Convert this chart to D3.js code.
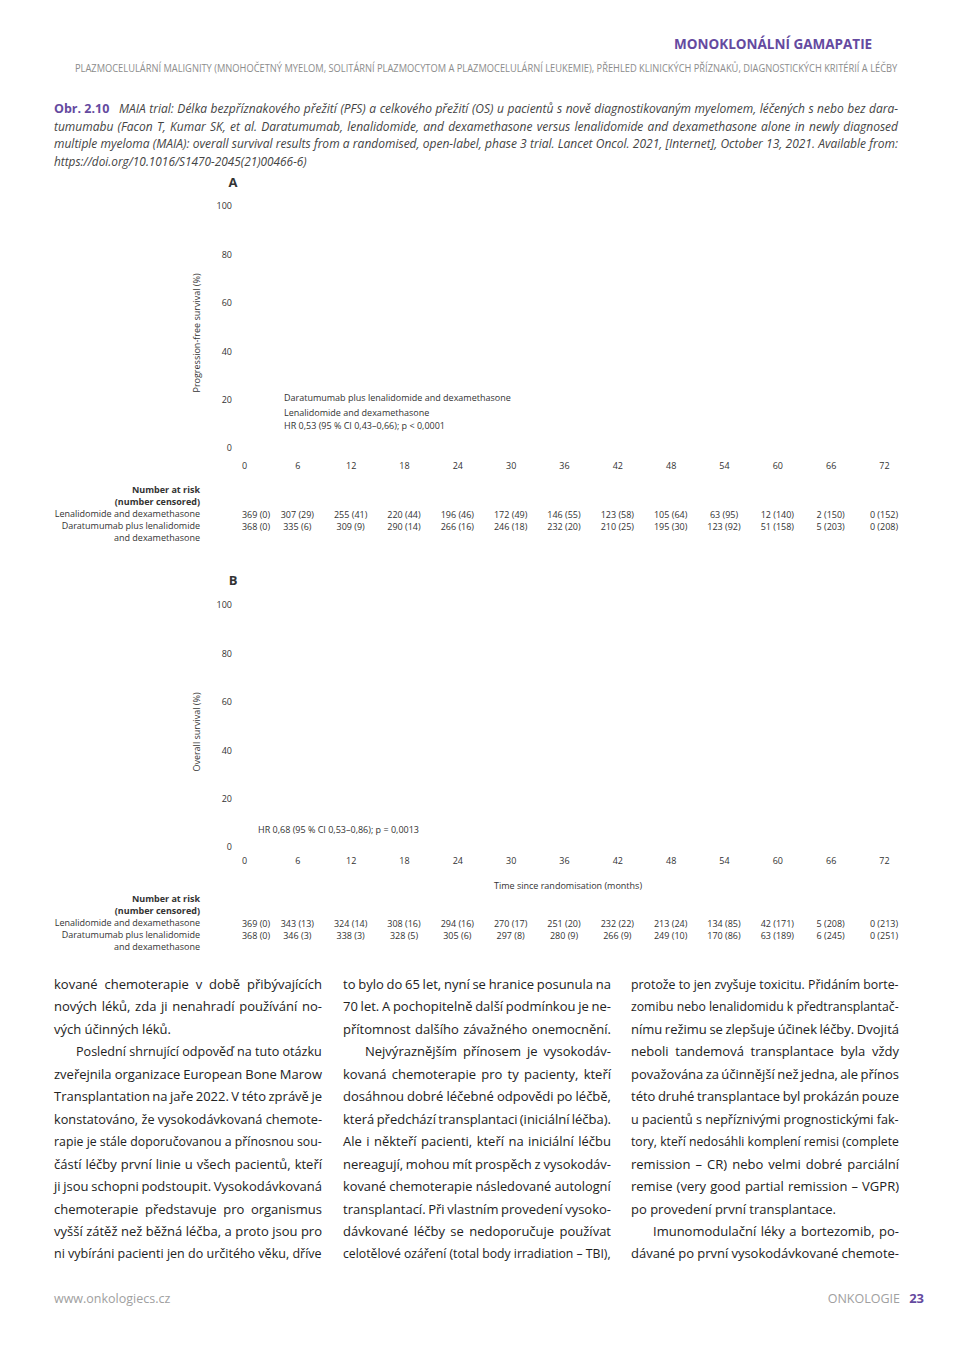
<!DOCTYPE html>
<html lang="cs">
<head>
  <meta charset="UTF-8">
  <title>MAIA trial – PFS a OS</title>
  <script src="https://d3js.org/d3.v7.min.js"></script>
  <style>
    body { margin: 0; background: #fff; }
    svg { display: block; }
    .chart text { font-family: "Open Sans", sans-serif; font-size: 9px; fill: #333; }
    .body-text { font-family: "Open Sans", sans-serif; font-size: 13px; fill: #222; }
    .caption { font-family: "Open Sans", sans-serif; font-size: 12px; font-style: italic; fill: #444; }
  </style>
</head>
<body>
  <svg width="954" height="1350"></svg>

  <script>
    // tick values
    const months = [0, 6, 12, 18, 24, 30, 36, 42, 48, 54, 60, 66, 72];
    const survivalTicks = [0, 20, 40, 60, 80, 100];

    // number at risk (number censored)
    const pfsLenDex = ["369 (0)", "307 (29)", "255 (41)", "220 (44)", "196 (46)", "172 (49)", "146 (55)",
                       "123 (58)", "105 (64)", "63 (95)", "12 (140)", "2 (150)", "0 (152)"];
    const pfsDaraLenDex = ["368 (0)", "335 (6)", "309 (9)", "290 (14)", "266 (16)", "246 (18)", "232 (20)",
                           "210 (25)", "195 (30)", "123 (92)", "51 (158)", "5 (203)", "0 (208)"];
    const osLenDex = ["369 (0)", "343 (13)", "324 (14)", "308 (16)", "294 (16)", "270 (17)", "251 (20)",
                      "232 (22)", "213 (24)", "134 (85)", "42 (171)", "5 (208)", "0 (213)"];
    const osDaraLenDex = ["368 (0)", "346 (3)", "338 (3)", "328 (5)", "305 (6)", "297 (8)", "280 (9)",
                          "266 (9)", "249 (10)", "170 (86)", "63 (189)", "6 (245)", "0 (251)"];

    const purple = "#654aa0";
    const svg = d3.select("svg");

    // place a text line at (x, y) and make it exactly `width` wide:
    // widen word gaps if short, squeeze horizontally if too long
    const fitLine = (sel, x, y, width, justify = true) => {
      sel.attr("x", x).attr("y", y);
      const natural = sel.node().getComputedTextLength();
      const gaps = (sel.text().match(/ /g) || []).length;
      if (natural <= width) {
        if (justify && gaps) sel.style("word-spacing", ((width - natural) / gaps) + "px");
      } else if (gaps && (natural - width) / gaps <= 1.2) {
        sel.style("word-spacing", (-(natural - width) / gaps) + "px");
      } else {
        sel.attr("x", 0).attr("y", 0)
          .attr("transform", `translate(${x},${y}) scale(${width / natural},1)`);
      }
      return sel;
    };

    // ---- page header ----
    svg.append("text")
      .style("font-family", "'Open Sans', sans-serif").style("font-weight", 700)
      .style("font-size", "13.5px").attr("fill", purple)
      .text("MONOKLONÁLNÍ GAMAPATIE")
      .call(s => fitLine(s, 674, 49, 224, false));

    svg.append("text")
      .style("font-family", "'Open Sans', sans-serif")
      .style("font-size", "11.5px").attr("fill", "#8c8c8c")
      .text("PLAZMOCELULÁRNÍ MALIGNITY (MNOHOČETNÝ MYELOM, SOLITÁRNÍ PLAZMOCYTOM A PLAZMOCELULÁRNÍ LEUKEMIE), PŘEHLED KLINICKÝCH PŘÍZNAKŮ, DIAGNOSTICKÝCH KRITÉRIÍ A LÉČBY")
      .call(s => fitLine(s, 75, 71.5, 823));

    // ---- figure caption ----
    svg.append("text")
      .attr("x", 54).attr("y", 113)
      .style("font-family", "'Open Sans', sans-serif").style("font-weight", 700)
      .style("font-size", "12.5px").attr("fill", purple)
      .text("Obr. 2.10");

    const captionLines = [
      { x: 119, text: "MAIA trial: Délka bezpříznakového přežití (PFS) a celkového přežití (OS) u pacientů s nově diagnostikovaným myelomem, léčených s nebo bez dara-", justify: true },
      { x: 54, text: "tumumabu (Facon T, Kumar SK, et al. Daratumumab, lenalidomide, and dexamethasone versus lenalidomide and dexamethasone alone in newly diagnosed", justify: true },
      { x: 54, text: "multiple myeloma (MAIA): overall survival results from a randomised, open-label, phase 3 trial. Lancet Oncol. 2021, [Internet], October 13, 2021. Available from:", justify: true },
      { x: 54, text: "https://doi.org/10.1016/S1470-2045(21)00466-6)", justify: false, width: 253 }
    ];
    captionLines.forEach((ln, i) => {
      const t = svg.append("text").attr("class", "caption").text(ln.text);
      fitLine(t, ln.x, 113 + i * 17.5, ln.justify ? 898 - ln.x : ln.width, ln.justify);
    });

    // ---- survival panels ----
    const x = d3.scaleLinear().domain([0, 72]).range([244, 884]);

    const panels = [
      {
        letter: "A", top: 182, y0: 448, y100: 206, xAxisY: 459,
        yLabel: "Progression-free survival (%)",
        notes: [
          { x: 284, y: 401, text: "Daratumumab plus lenalidomide and dexamethasone" },
          { x: 284, y: 416, text: "Lenalidomide and dexamethasone" },
          { x: 284, y: 429, text: "HR 0,53 (95 % CI 0,43–0,66); p < 0,0001" }
        ],
        xLabel: null, riskTop: 493, rows: [pfsLenDex, pfsDaraLenDex]
      },
      {
        letter: "B", top: 580, y0: 847, y100: 605, xAxisY: 854,
        yLabel: "Overall survival (%)",
        notes: [
          { x: 258, y: 833, text: "HR 0,68 (95 % CI 0,53–0,86); p = 0,0013" }
        ],
        xLabel: { y: 889, text: "Time since randomisation (months)" },
        riskTop: 902, rows: [osLenDex, osDaraLenDex]
      }
    ];

    panels.forEach(p => {
      const g = svg.append("g").attr("class", "chart");
      const y = d3.scaleLinear().domain([0, 100]).range([p.y0, p.y100]);

      g.append("text")
        .attr("x", 233).attr("y", p.top + 5).attr("text-anchor", "middle")
        .style("font-size", "13px").style("font-weight", 700).attr("fill", "#222")
        .text(p.letter);

      g.append("g")
        .attr("transform", "translate(236,0)")
        .call(d3.axisLeft(y).tickValues(survivalTicks).tickSize(0).tickPadding(4))
        .call(a => a.select(".domain").remove())
        .call(a => a.selectAll("text").attr("fill", "#333").style("font-family", "'Open Sans', sans-serif").style("font-size", "9px"));

      g.append("g")
        .attr("transform", `translate(0,${p.xAxisY})`)
        .call(d3.axisBottom(x).tickValues(months).tickSize(0).tickPadding(4))
        .call(a => a.select(".domain").remove())
        .call(a => a.selectAll("text").attr("fill", "#333").style("font-family", "'Open Sans', sans-serif").style("font-size", "9px"));

      g.append("text")
        .attr("transform", `translate(200,${(p.y0 + p.y100) / 2 + 6}) rotate(-90)`)
        .attr("text-anchor", "middle")
        .text(p.yLabel);

      g.selectAll(".note").data(p.notes).join("text")
        .attr("class", "note")
        .attr("x", d => d.x).attr("y", d => d.y)
        .text(d => d.text);

      if (p.xLabel) {
        g.append("text")
          .attr("x", (x(0) + x(72)) / 2 + 4).attr("y", p.xLabel.y)
          .attr("text-anchor", "middle")
          .text(p.xLabel.text);
      }

      // number at risk table
      const labelX = 200, rowH = 11.9;
      const labels = [
        { text: "Number at risk", bold: true },
        { text: "(number censored)", bold: true },
        { text: "Lenalidomide and dexamethasone" },
        { text: "Daratumumab plus lenalidomide" },
        { text: "and dexamethasone" }
      ];
      g.selectAll(".risk-label").data(labels).join("text")
        .attr("class", "risk-label")
        .attr("x", labelX).attr("y", (d, i) => p.riskTop + i * rowH)
        .attr("text-anchor", "end")
        .style("font-weight", d => d.bold ? 700 : 400)
        .text(d => d.text);

      p.rows.forEach((row, r) => {
        g.selectAll(".risk-row-" + r).data(row).join("text")
          .attr("class", "risk-row-" + r)
          .attr("x", (d, i) => x(months[i]) + (i === 0 ? 12 : 0))
          .attr("y", p.riskTop + (2 + r) * rowH + 1)
          .attr("text-anchor", "middle")
          .text(d => d);
      });
    });

    // ---- body text, three justified columns ----
    // mode: 1 = justified, 2 = justified with paragraph indent, 0 = last line of paragraph
    const columns = [
      { x: 54, lines: [
        ["kované chemoterapie v době přibývajících", 1],
        ["nových léků, zda ji nenahradí používání no-", 1],
        ["vých účinných léků.", 0],
        ["Poslední shrnující odpověď na tuto otázku", 2],
        ["zveřejnila organizace European Bone Marow", 1],
        ["Transplantation na jaře 2022. V této zprávě je", 1],
        ["konstatováno, že vysokodávkovaná chemote-", 1],
        ["rapie je stále doporučovanou a přínosnou sou-", 1],
        ["částí léčby první linie u všech pacientů, kteří", 1],
        ["ji jsou schopni podstoupit. Vysokodávkovaná", 1],
        ["chemoterapie představuje pro organismus", 1],
        ["vyšší zátěž než běžná léčba, a proto jsou pro", 1],
        ["ni vybíráni pacienti jen do určitého věku, dříve", 1]
      ]},
      { x: 343, lines: [
        ["to bylo do 65 let, nyní se hranice posunula na", 1],
        ["70 let. A pochopitelně další podmínkou je ne-", 1],
        ["přítomnost dalšího závažného onemocnění.", 1],
        ["Nejvýraznějším přínosem je vysokodáv-", 2],
        ["kovaná chemoterapie pro ty pacienty, kteří", 1],
        ["dosáhnou dobré léčebné odpovědi po léčbě,", 1],
        ["která předchází transplantaci (iniciální léčba).", 1],
        ["Ale i někteří pacienti, kteří na iniciální léčbu", 1],
        ["nereagují, mohou mít prospěch z vysokodáv-", 1],
        ["kované chemoterapie následované autologní", 1],
        ["transplantací. Při vlastním provedení vysoko-", 1],
        ["dávkované léčby se nedoporučuje používat", 1],
        ["celotělové ozáření (total body irradiation – TBI),", 1]
      ]},
      { x: 631, lines: [
        ["protože to jen zvyšuje toxicitu. Přidáním borte-", 1],
        ["zomibu nebo lenalidomidu k předtransplantač-", 1],
        ["nímu režimu se zlepšuje účinek léčby. Dvojitá", 1],
        ["neboli tandemová transplantace byla vždy", 1],
        ["považována za účinnější než jedna, ale přínos", 1],
        ["této druhé transplantace byl prokázán pouze", 1],
        ["u pacientů s nepříznivými prognostickými fak-", 1],
        ["tory, kteří nedosáhli komplení remisi (complete", 1],
        ["remission – CR) nebo velmi dobré parciální", 1],
        ["remise (very good partial remission – VGPR)", 1],
        ["po provedení první transplantace.", 0],
        ["Imunomodulační léky a bortezomib, po-", 2],
        ["dávané po první vysokodávkované chemote-", 1]
      ]}
    ];
    const colWidth = 268, indent = 22;
    columns.forEach(col => {
      col.lines.forEach(([txt, mode], i) => {
        const lx = col.x + (mode === 2 ? indent : 0);
        const t = svg.append("text").attr("class", "body-text").text(txt);
        fitLine(t, lx, 989 + i * 22.45, col.x + colWidth - lx, mode > 0);
      });
    });

    // ---- footer ----
    svg.append("text")
      .style("font-family", "'Open Sans', sans-serif").style("font-size", "12.5px").attr("fill", "#a0a0a0")
      .text("www.onkologiecs.cz")
      .call(s => fitLine(s, 54, 1303, 120, false));
    svg.append("text")
      .attr("x", 900).attr("y", 1303).attr("text-anchor", "end")
      .style("font-family", "'Open Sans', sans-serif").style("font-size", "12.5px").attr("fill", "#a0a0a0")
      .text("ONKOLOGIE");
    svg.append("text")
      .attr("x", 924).attr("y", 1303).attr("text-anchor", "end")
      .style("font-family", "'Open Sans', sans-serif").style("font-weight", 700)
      .style("font-size", "13px").attr("fill", purple)
      .text("23");
  </script>
</body>
</html>
